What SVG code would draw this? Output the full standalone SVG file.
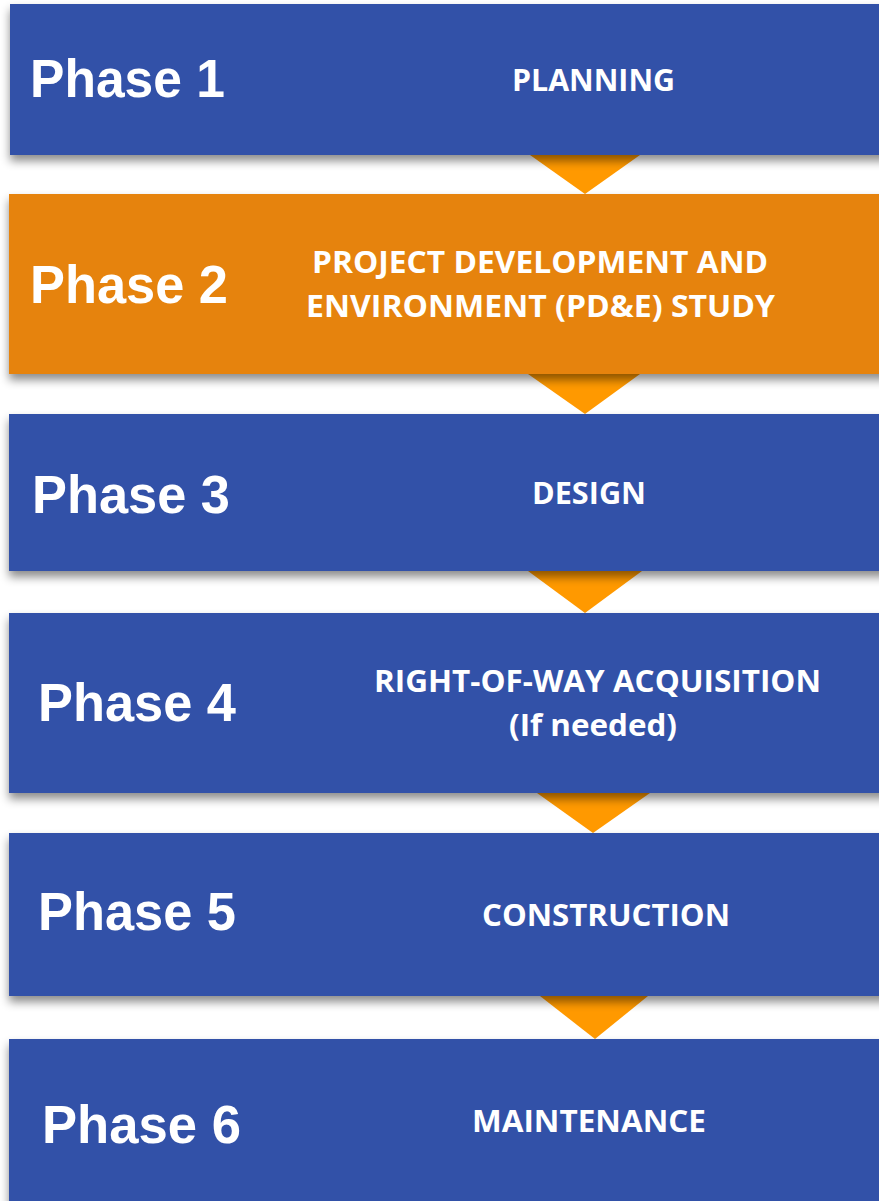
<svg xmlns="http://www.w3.org/2000/svg" width="879" height="1201" viewBox="0 0 879 1201">
<defs>
<filter id="sh" x="-5%" y="-10%" width="110%" height="140%">
<feDropShadow dx="0" dy="6" stdDeviation="5" flood-color="#000" flood-opacity="0.45"/>
</filter>
<style>
.blue{fill:#3151A8}
.orange{fill:#E6830F}
.tri{fill:#FF9900}
.ph{font-family:"Liberation Sans",Arial,sans-serif;font-weight:700;font-size:54px;fill:#fff}
.lb{font-family:"Open Sans","Liberation Sans",sans-serif;font-weight:700;font-size:30px;fill:#fff;text-anchor:middle}
</style>
</defs>
<g id="connectors">
<polygon class="tri" points="530,155 640,155 585,194"/>
<polygon class="tri" points="528,374 640,374 585,414"/>
<polygon class="tri" points="528,571 642,571 585,613"/>
<polygon class="tri" points="537,793 650,793 593,833"/>
<polygon class="tri" points="540,996 648,996 595,1039"/>
</g>
<g id="phase1">
<rect class="blue" x="10" y="4" width="880" height="151" filter="url(#sh)"/>
<text class="ph" x="30" y="97" textLength="195" lengthAdjust="spacingAndGlyphs">Phase 1</text>
<text class="lb" x="593.5" y="91" textLength="163" lengthAdjust="spacingAndGlyphs">PLANNING</text>
</g>
<g id="phase2">
<rect class="orange" x="9" y="194" width="880" height="180" filter="url(#sh)"/>
<text class="ph" x="30" y="303" textLength="198" lengthAdjust="spacingAndGlyphs">Phase 2</text>
<text class="lb" x="540" y="273" textLength="456" lengthAdjust="spacingAndGlyphs">PROJECT DEVELOPMENT AND</text>
<text class="lb" x="540.5" y="317" textLength="469" lengthAdjust="spacingAndGlyphs">ENVIRONMENT (PD&amp;E) STUDY</text>
</g>
<g id="phase3">
<rect class="blue" x="9" y="414" width="880" height="157" filter="url(#sh)"/>
<text class="ph" x="32" y="513" textLength="198" lengthAdjust="spacingAndGlyphs">Phase 3</text>
<text class="lb" x="589" y="504" textLength="114" lengthAdjust="spacingAndGlyphs">DESIGN</text>
</g>
<g id="phase4">
<rect class="blue" x="9" y="613" width="880" height="180" filter="url(#sh)"/>
<text class="ph" x="38" y="721" textLength="198" lengthAdjust="spacingAndGlyphs">Phase 4</text>
<text class="lb" x="597.5" y="692" textLength="447" lengthAdjust="spacingAndGlyphs">RIGHT-OF-WAY ACQUISITION</text>
<text class="lb" x="593" y="736" textLength="168" lengthAdjust="spacingAndGlyphs">(If needed)</text>
</g>
<g id="phase5">
<rect class="blue" x="9" y="833" width="880" height="163" filter="url(#sh)"/>
<text class="ph" x="38" y="930" textLength="198" lengthAdjust="spacingAndGlyphs">Phase 5</text>
<text class="lb" x="606" y="926" textLength="248" lengthAdjust="spacingAndGlyphs">CONSTRUCTION</text>
</g>
<g id="phase6">
<rect class="blue" x="9" y="1039" width="880" height="170" filter="url(#sh)"/>
<text class="ph" x="42" y="1143" textLength="199" lengthAdjust="spacingAndGlyphs">Phase 6</text>
<text class="lb" x="589" y="1132" textLength="234" lengthAdjust="spacingAndGlyphs">MAINTENANCE</text>
</g>
</svg>
